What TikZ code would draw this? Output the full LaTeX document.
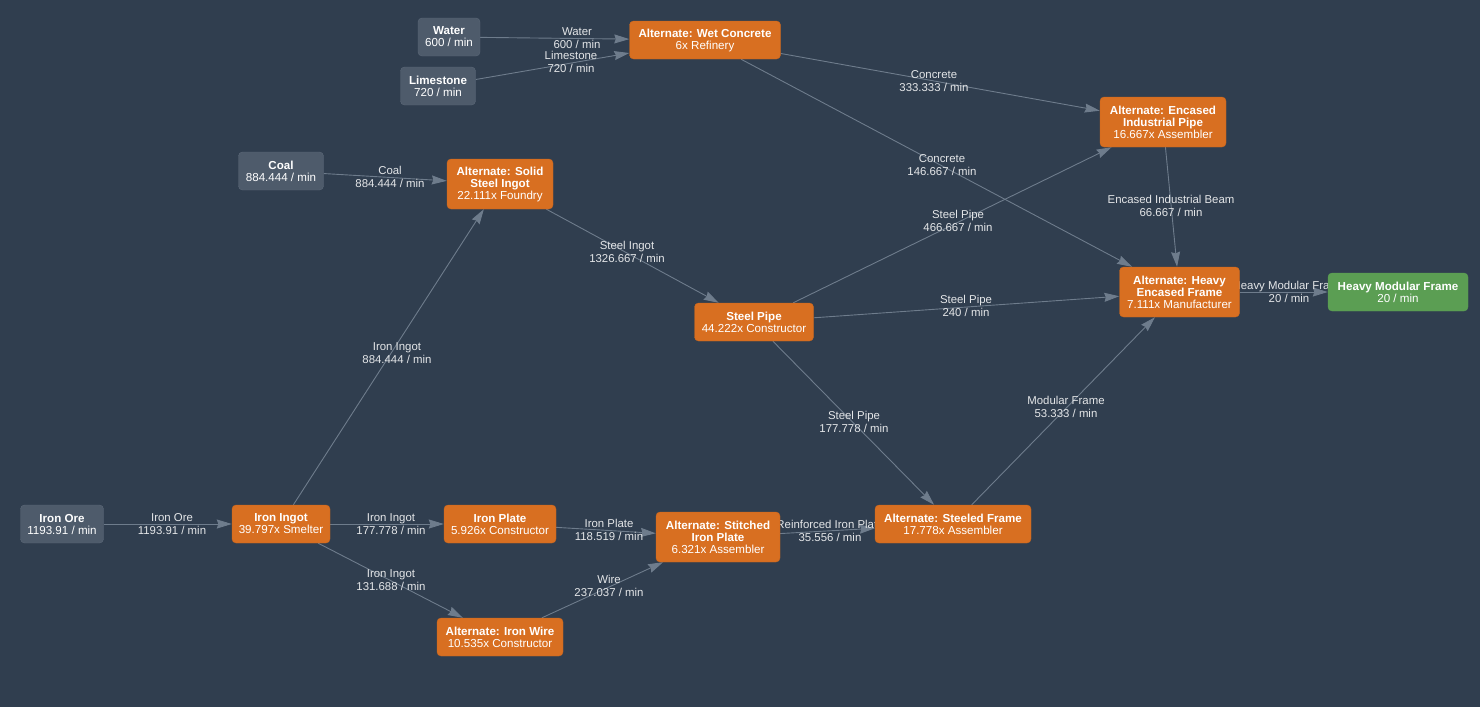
\documentclass[tikz,border=0pt]{standalone}
\usepackage{fontspec}
\setmainfont{Liberation Sans}
\usetikzlibrary{arrows.meta}
\pgfdeclarelayer{bg}
\pgfdeclarelayer{edges}
\pgfsetlayers{bg,edges,main}
\definecolor{bgcol}{HTML}{303E4F}
\definecolor{orangecol}{HTML}{D86F21}
\definecolor{orangeedge}{HTML}{C9661E}
\definecolor{greycol}{HTML}{4E5B6B}
\definecolor{greyedge}{HTML}{5C6878}
\definecolor{greencol}{HTML}{5B9E53}
\definecolor{edgecol}{HTML}{6E7C8C}
\definecolor{lblcol}{HTML}{E4E6E8}
\tikzset{
  base/.style={rounded corners=4pt, inner sep=0pt, align=center, text=white,
    font=\fontsize{11.6}{12}\selectfont},
  recipe/.style={base, fill=orangecol, draw=orangeedge},
  source/.style={base, fill=greycol, draw=greyedge},
  product/.style={base, fill=greencol, draw=greencol},
  flow/.style={draw=edgecol, line width=0.9pt, -{Stealth[length=15pt,width=9pt,inset=1.5pt]}},
  lbl/.style={inner sep=0pt, align=center, text=lblcol, font=\fontsize{11.4}{12.5}\selectfont},
}
\begin{document}
\begin{tikzpicture}[x=1pt,y=-1pt]
\begin{pgfonlayer}{bg}
\fill[bgcol] (0,0) rectangle (1480,707);
\end{pgfonlayer}
\useasboundingbox (0,0) rectangle (1480,707);

% nodes
\node[source, minimum width=62pt, minimum height=38pt] (water) at (449,37) {\textbf{Water}\\600 / min};
\node[source, minimum width=75pt, minimum height=38pt] (lime) at (438,86) {\textbf{Limestone}\\720 / min};
\node[recipe, minimum width=151pt, minimum height=38pt] (wetc) at (705,40) {\textbf{Alternate: Wet Concrete}\\6x Refinery};
\node[source, minimum width=85pt, minimum height=38pt] (coal) at (281,171) {\textbf{Coal}\\884.444 / min};
\node[recipe, minimum width=106pt, minimum height=50pt] (ssi) at (500,184) {\textbf{Alternate: Solid}\\\textbf{Steel Ingot}\\22.111x Foundry};
\node[recipe, minimum width=126pt, minimum height=50pt] (eip) at (1163,122) {\textbf{Alternate: Encased}\\\textbf{Industrial Pipe}\\16.667x Assembler};
\node[recipe, minimum width=120pt, minimum height=50pt] (hef) at (1179.5,292) {\textbf{Alternate: Heavy}\\\textbf{Encased Frame}\\7.111x Manufacturer};
\node[product, minimum width=140pt, minimum height=38pt] (hmf) at (1398,292) {\textbf{Heavy Modular Frame}\\20 / min};
\node[recipe, minimum width=119pt, minimum height=38pt] (sp) at (754,322) {\textbf{Steel Pipe}\\44.222x Constructor};
\node[source, minimum width=83pt, minimum height=38pt] (ore) at (62,524) {\textbf{Iron Ore}\\1193.91 / min};
\node[recipe, minimum width=98pt, minimum height=38pt] (ingot) at (281,524) {\textbf{Iron Ingot}\\39.797x Smelter};
\node[recipe, minimum width=112pt, minimum height=38pt] (plate) at (500,524) {\textbf{Iron Plate}\\5.926x Constructor};
\node[recipe, minimum width=124pt, minimum height=50pt] (sip) at (718,537) {\textbf{Alternate: Stitched}\\\textbf{Iron Plate}\\6.321x Assembler};
\node[recipe, minimum width=156pt, minimum height=38pt] (sf) at (953,524) {\textbf{Alternate: Steeled Frame}\\17.778x Assembler};
\node[recipe, minimum width=126pt, minimum height=38pt] (wire) at (500,637) {\textbf{Alternate: Iron Wire}\\10.535x Constructor};

\begin{pgfonlayer}{edges}
\draw[flow] (water) -- (wetc);
\draw[flow] (lime) -- (wetc);
\draw[flow] (coal) -- (ssi);
\draw[flow] (wetc) -- (eip);
\draw[flow] (wetc) -- (hef);
\draw[flow] (ssi) -- (sp);
\draw[flow] (sp) -- (eip);
\draw[flow] (sp) -- (hef);
\draw[flow] (sp) -- (sf);
\draw[flow] (sf) -- (hef);
\draw[flow] (eip) -- (hef);
\draw[flow] (hef) -- (hmf);
\draw[flow] (ingot) -- (ssi);
\draw[flow] (ore) -- (ingot);
\draw[flow] (ingot) -- (plate);
\draw[flow] (ingot) -- (wire);
\draw[flow] (plate) -- (sip);
\draw[flow] (wire) -- (sip);
\draw[flow] (sip) -- (sf);

\node[lbl] (l1) at (577,38) {Water\\600 / min};
\node[lbl] (l2) at (571,62) {Limestone\\720 / min};
\node[lbl] (l3) at (390,177) {Coal\\884.444 / min};
\node[lbl] (l4) at (934,81) {Concrete\\333.333 / min};
\node[lbl] (l5) at (942,165) {Concrete\\146.667 / min};
\node[lbl] (l6) at (627,252) {Steel Ingot\\1326.667 / min};
\node[lbl] (l7) at (958,221) {Steel Pipe\\466.667 / min};
\node[lbl] (l8) at (966,306) {Steel Pipe\\240 / min};
\node[lbl] (l9) at (854,422) {Steel Pipe\\177.778 / min};
\node[lbl] (l10) at (1066,407) {Modular Frame\\53.333 / min};
\node[lbl] (l11) at (1171,206) {Encased Industrial Beam\\66.667 / min};
\node[lbl] (l12) at (1289,292) {Heavy Modular Frame\\20 / min};
\node[lbl] (l13) at (397,353) {Iron Ingot\\884.444 / min};
\node[lbl] (l14) at (172,524) {Iron Ore\\1193.91 / min};
\node[lbl] (l15) at (391,524) {Iron Ingot\\177.778 / min};
\node[lbl] (l16) at (391,580) {Iron Ingot\\131.688 / min};
\node[lbl] (l17) at (609,530) {Iron Plate\\118.519 / min};
\node[lbl] (l18) at (609,586) {Wire\\237.037 / min};
\node[lbl] (l19) at (830,531) {Reinforced Iron Plate\\35.556 / min};
\end{pgfonlayer}
\end{tikzpicture}
\end{document}
